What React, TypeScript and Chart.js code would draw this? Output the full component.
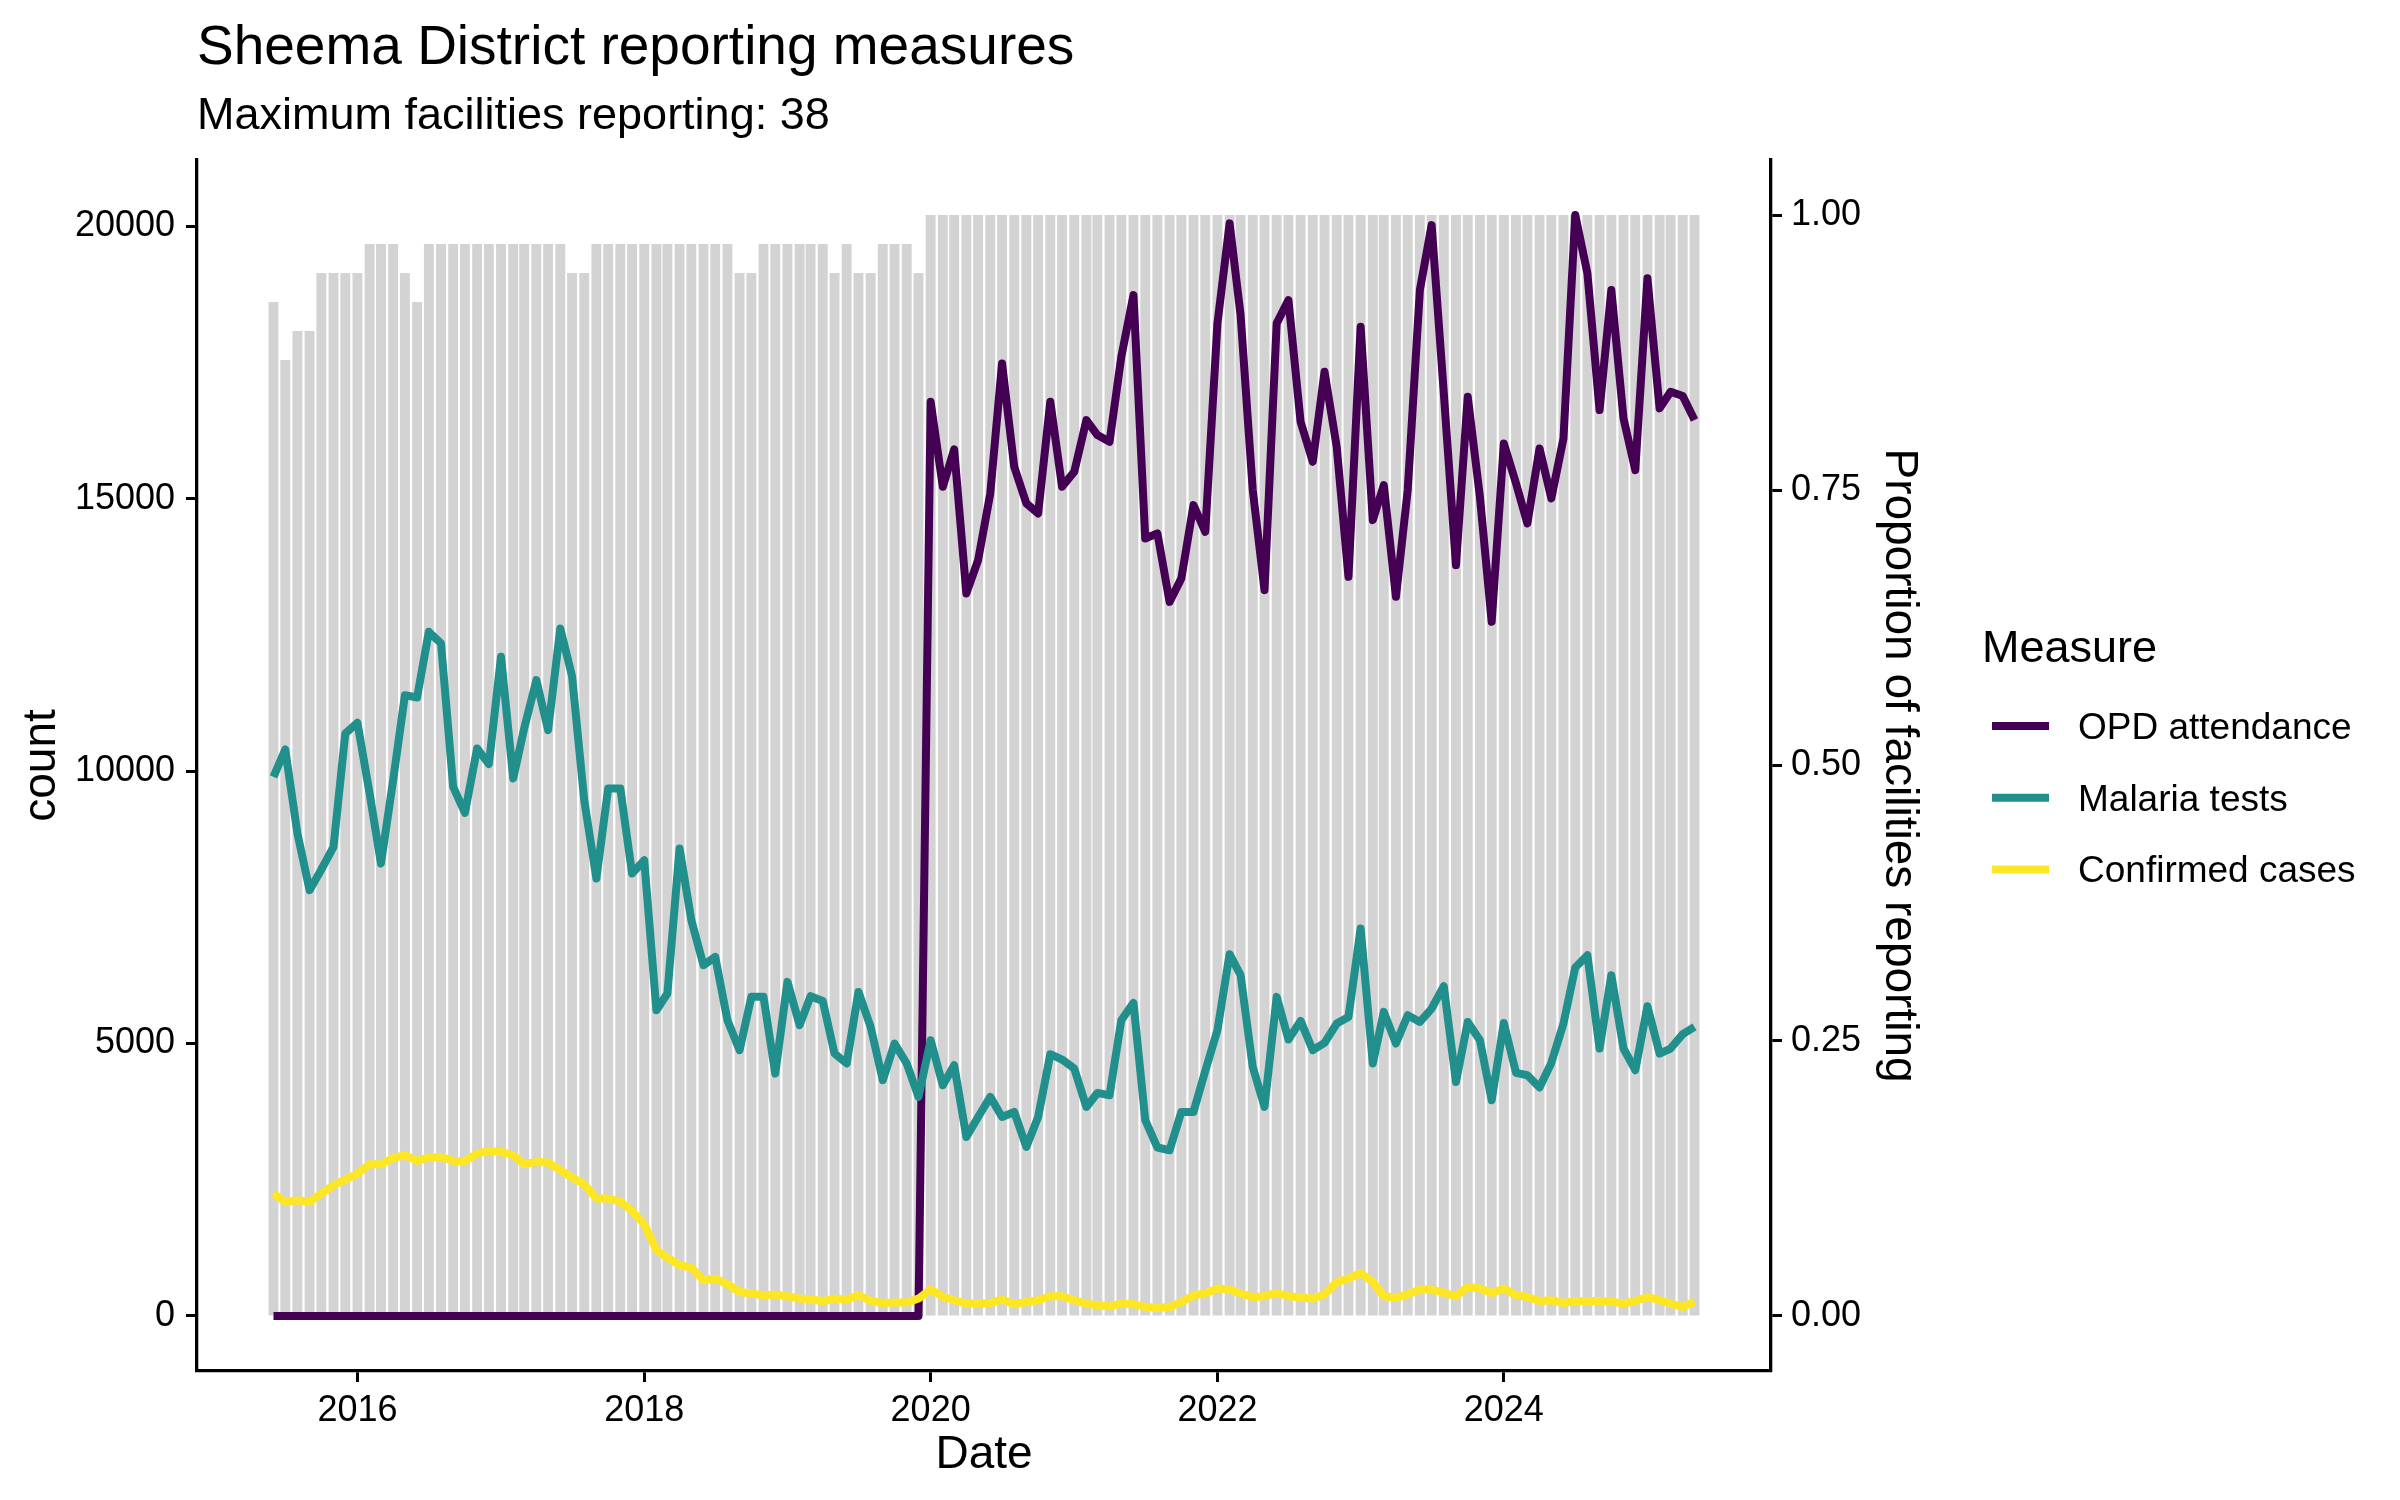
import React, { useEffect, useRef } from "react";
import { Chart, registerables } from "chart.js";

Chart.register(...registerables);

const TITLE = "Sheema District reporting measures";
const SUBTITLE = "Maximum facilities reporting: 38";
const MAX_FACILITIES = 38;

const months = [
  "2015-06", "2015-07", "2015-08", "2015-09", "2015-10", "2015-11", "2015-12",
  "2016-01", "2016-02", "2016-03", "2016-04", "2016-05", "2016-06", "2016-07", "2016-08", "2016-09", "2016-10", "2016-11", "2016-12",
  "2017-01", "2017-02", "2017-03", "2017-04", "2017-05", "2017-06", "2017-07", "2017-08", "2017-09", "2017-10", "2017-11", "2017-12",
  "2018-01", "2018-02", "2018-03", "2018-04", "2018-05", "2018-06", "2018-07", "2018-08", "2018-09", "2018-10", "2018-11", "2018-12",
  "2019-01", "2019-02", "2019-03", "2019-04", "2019-05", "2019-06", "2019-07", "2019-08", "2019-09", "2019-10", "2019-11", "2019-12",
  "2020-01", "2020-02", "2020-03", "2020-04", "2020-05", "2020-06", "2020-07", "2020-08", "2020-09", "2020-10", "2020-11", "2020-12",
  "2021-01", "2021-02", "2021-03", "2021-04", "2021-05", "2021-06", "2021-07", "2021-08", "2021-09", "2021-10", "2021-11", "2021-12",
  "2022-01", "2022-02", "2022-03", "2022-04", "2022-05", "2022-06", "2022-07", "2022-08", "2022-09", "2022-10", "2022-11", "2022-12",
  "2023-01", "2023-02", "2023-03", "2023-04", "2023-05", "2023-06", "2023-07", "2023-08", "2023-09", "2023-10", "2023-11", "2023-12",
  "2024-01", "2024-02", "2024-03", "2024-04", "2024-05", "2024-06", "2024-07", "2024-08", "2024-09", "2024-10", "2024-11", "2024-12",
  "2025-01", "2025-02", "2025-03", "2025-04", "2025-05",
];

const facilitiesReporting = [
  35, 33, 34, 34, 36, 36, 36,
  36, 37, 37, 37, 36, 35, 37, 37, 37, 37, 37, 37,
  37, 37, 37, 37, 37, 37, 36, 36, 37, 37, 37, 37,
  37, 37, 37, 37, 37, 37, 37, 37, 36, 36, 37, 37,
  37, 37, 37, 37, 36, 37, 36, 36, 37, 37, 37, 36,
  38, 38, 38, 38, 38, 38, 38, 38, 38, 38, 38, 38,
  38, 38, 38, 38, 38, 38, 38, 38, 38, 38, 38, 38,
  38, 38, 38, 38, 38, 38, 38, 38, 38, 38, 38, 38,
  38, 38, 38, 38, 38, 38, 38, 38, 38, 38, 38, 38,
  38, 38, 38, 38, 38, 38, 38, 38, 38, 38, 38, 38,
  38, 38, 38, 38, 38,
];

const opdAttendance = [
  0, 0, 0, 0, 0, 0, 0,
  0, 0, 0, 0, 0, 0, 0, 0, 0, 0, 0, 0,
  0, 0, 0, 0, 0, 0, 0, 0, 0, 0, 0, 0,
  0, 0, 0, 0, 0, 0, 0, 0, 0, 0, 0, 0,
  0, 0, 0, 0, 0, 0, 0, 0, 0, 0, 0, 0,
  16780, 15220, 15906, 13263, 13874, 15098, 17485, 15587, 14915, 14731, 16780, 15220,
  15495, 16444, 16169, 16046, 17606, 18739, 14272, 14364, 13108, 13538, 14884, 14393,
  18219, 20055, 18372, 15159, 13323, 18219, 18647, 16413, 15679, 17331, 15954, 13567,
  18157, 14608, 15251, 13200, 15159, 18831, 20024, 16934, 13782, 16872, 15036, 12741,
  16016, 15282, 14548, 15924, 15007, 16108, 20208, 19137, 16628, 18831, 16475, 15526,
  19046, 16659, 16964, 16885, 16444,
];

const malariaTests = [
  9895, 10398, 8856, 7815, 8195, 8610, 10692,
  10887, 9590, 8305, 9835, 11395, 11353, 12558, 12344, 9712, 9235, 10417, 10129,
  12099, 9866, 10784, 11671, 10753, 12620, 11744, 9468, 8030, 9682, 9682, 8122,
  8366, 5612, 5919, 8581, 7265, 6438, 6591, 5429, 4878, 5857, 5857, 4450,
  6132, 5337, 5869, 5783, 4817, 4634, 5948, 5306, 4327, 5001, 4634, 4021,
  5061, 4235, 4603, 3286, 3653, 4021, 3653, 3745, 3103, 3653, 4805, 4707,
  4542, 3837, 4094, 4052, 5429, 5746, 3593, 3092, 3042, 3745, 3745, 4498,
  5245, 6640, 6255, 4571, 3837, 5857, 5074, 5416, 4878, 5012, 5368, 5489,
  7112, 4634, 5581, 5001, 5520, 5397, 5643, 6053, 4296, 5397, 5061, 3960,
  5379, 4461, 4419, 4193, 4645, 5368, 6396, 6622, 4909, 6255, 4909, 4511,
  5686, 4817, 4909, 5172, 5306,
];

const confirmedCases = [
  2247, 2093, 2124, 2093, 2250, 2399, 2504,
  2614, 2785, 2785, 2901, 2950, 2846, 2908, 2919, 2846, 2846, 2981, 3029,
  3011, 2950, 2785, 2827, 2816, 2675, 2541, 2418, 2155, 2155, 2100, 1930,
  1680, 1210, 1070, 931, 889, 655, 687, 582, 441, 411, 380, 393,
  362, 319, 301, 275, 319, 301, 380, 275, 239, 245, 245, 319,
  488, 350, 288, 227, 227, 239, 301, 215, 257, 288, 362, 362,
  288, 227, 196, 178, 227, 215, 165, 154, 165, 257, 380, 411,
  503, 485, 411, 349, 362, 422, 362, 338, 319, 395, 620, 687,
  789, 624, 362, 338, 398, 485, 485, 422, 362, 532, 503, 422,
  503, 380, 349, 275, 288, 239, 270, 275, 275, 264, 227, 275,
  349, 288, 227, 165, 264,
];

const countTicks = [0, 5000, 10000, 15000, 20000];
const proportionTicks = [0, 0.25, 0.5, 0.75, 1];
const yearTicks = [2016, 2018, 2020, 2022, 2024];

const seriesNames = ["OPD attendance", "Malaria tests", "Confirmed cases"];
const seriesColors = ["#440154", "#21908C", "#FDE725"];
const BAR_COLOR = "#D3D3D3";

const FONT = "'Liberation Sans', Arial, Helvetica, sans-serif";
const DAY = 86400000;

function monthToDay(ym: string): number {
  const [y, m] = ym.split("-").map(Number);
  return Date.UTC(y, m - 1, 1) / DAY;
}

export default function App() {
  const canvasRef = useRef<HTMLCanvasElement | null>(null);

  useEffect(() => {
    const canvas = canvasRef.current;
    if (!canvas) return;

    const xs = months.map(monthToDay);
    const countMax = Math.max(...opdAttendance, ...malariaTests, ...confirmedCases);
    const halfBar = (28 * 0.9) / 2;
    const lo = xs[0] - halfBar;
    const hi = xs[xs.length - 1] + halfBar;
    const span = hi - lo;

    const seriesValues = [opdAttendance, malariaTests, confirmedCases];

    const titlePlugin = {
      id: "ggTitles",
      afterDraw(chart: any) {
        const { ctx, chartArea } = chart;
        ctx.save();
        ctx.fillStyle = "#000";
        ctx.textAlign = "left";
        ctx.textBaseline = "alphabetic";
        ctx.font = `55px ${FONT}`;
        ctx.fillText(TITLE, chartArea.left, 64);
        ctx.font = `45px ${FONT}`;
        ctx.fillText(SUBTITLE, chartArea.left, 129);
        ctx.restore();
      },
    };

    const legendPlugin = {
      id: "ggLegend",
      afterDraw(chart: any) {
        const { ctx } = chart;
        ctx.save();
        ctx.fillStyle = "#000";
        ctx.textAlign = "left";
        ctx.textBaseline = "alphabetic";
        ctx.font = `45px ${FONT}`;
        ctx.fillText("Measure", 1982, 662);
        seriesNames.forEach((name, i) => {
          const cy = 726 + i * 71.7;
          ctx.strokeStyle = seriesColors[i];
          ctx.lineWidth = 8;
          ctx.lineCap = "butt";
          ctx.beginPath();
          ctx.moveTo(1992, cy);
          ctx.lineTo(2049, cy);
          ctx.stroke();
          ctx.fillStyle = "#000";
          ctx.font = `37px ${FONT}`;
          ctx.fillText(name, 2078, cy + 13);
        });
        ctx.restore();
      },
    };

    const lineDataset = (idx: number, order: number) => ({
      type: "line" as const,
      label: seriesNames[idx],
      data: xs.map((x, i) => ({ x, y: seriesValues[idx][i] })),
      borderColor: seriesColors[idx],
      backgroundColor: seriesColors[idx],
      borderWidth: 8,
      pointRadius: 0,
      pointHoverRadius: 0,
      tension: 0,
      fill: false,
      borderJoinStyle: "round" as const,
      borderCapStyle: "butt" as const,
      yAxisID: "y",
      order,
    });

    const tickFont = { family: FONT, size: 36 };
    const axisTitleFont = { family: FONT, size: 46 };
    const tickGrid = {
      offset: false,
      drawOnChartArea: false,
      drawTicks: true,
      tickLength: 11,
      tickColor: "#000",
      tickWidth: 3,
    };
    const axisBorder = { display: true, color: "#000", width: 3.3 };

    const chart = new Chart(canvas, {
      type: "bar",
      data: {
        datasets: [
          lineDataset(2, 0),
          lineDataset(1, 1),
          lineDataset(0, 2),
          {
            type: "bar" as const,
            label: "Proportion of facilities reporting",
            data: xs.map((x, i) => ({ x, y: facilitiesReporting[i] / MAX_FACILITIES })),
            backgroundColor: BAR_COLOR,
            borderWidth: 0,
            barPercentage: 0.9,
            categoryPercentage: 1,
            yAxisID: "y2",
            order: 3,
          } as any,
        ],
      },
      options: {
        responsive: false,
        animation: false,
        devicePixelRatio: 1,
        layout: { padding: { left: 0, top: 160, right: 469, bottom: 0 } },
        plugins: {
          legend: { display: false },
          tooltip: { enabled: false },
          title: { display: false },
        },
        scales: {
          x: {
            type: "linear",
            position: "bottom",
            offset: false,
            min: lo - 0.05 * span,
            max: hi + 0.05 * span,
            afterBuildTicks: (scale: any) => {
              scale.ticks = yearTicks.map((y) => ({ value: Date.UTC(y, 0, 1) / DAY }));
            },
            ticks: {
              autoSkip: false,
              maxRotation: 0,
              padding: 7,
              color: "#000",
              font: tickFont,
              callback: (v: any) => String(new Date(Number(v) * DAY).getUTCFullYear()),
            },
            grid: tickGrid,
            border: axisBorder,
            title: {
              display: true,
              text: "Date",
              color: "#000",
              font: axisTitleFont,
              padding: { top: 0, bottom: 17 },
            },
            afterFit: (scale: any) => {
              scale.height = 129;
            },
          },
          y: {
            type: "linear",
            position: "left",
            min: -0.05 * countMax,
            max: 1.05 * countMax,
            afterBuildTicks: (scale: any) => {
              scale.ticks = countTicks.map((v) => ({ value: v }));
            },
            ticks: {
              padding: 11,
              color: "#000",
              font: tickFont,
              callback: (v: any) => String(v),
            },
            grid: tickGrid,
            border: axisBorder,
            title: {
              display: true,
              text: "count",
              color: "#000",
              font: axisTitleFont,
              padding: { top: 15, bottom: 0 },
            },
            afterFit: (scale: any) => {
              scale.width = 197;
            },
          },
          y2: {
            type: "linear",
            position: "right",
            min: -0.05,
            max: 1.05,
            afterBuildTicks: (scale: any) => {
              scale.ticks = proportionTicks.map((v) => ({ value: v }));
            },
            ticks: {
              padding: 9,
              color: "#000",
              font: tickFont,
              callback: (v: any) => Number(v).toFixed(2),
            },
            grid: tickGrid,
            border: axisBorder,
            title: {
              display: true,
              text: "Proportion of facilities reporting",
              color: "#000",
              font: axisTitleFont,
              padding: { top: 5, bottom: 0 },
            },
            afterFit: (scale: any) => {
              scale.width = 160;
            },
          },
        },
      } as any,
      plugins: [titlePlugin, legendPlugin],
    });

    return () => {
      chart.destroy();
    };
  }, []);

  return (
    <div
      style={{
        position: "absolute",
        left: 0,
        top: 0,
        width: 2400,
        height: 1500,
        background: "#ffffff",
      }}
    >
      <canvas
        ref={canvasRef}
        width={2400}
        height={1500}
        style={{ width: 2400, height: 1500, display: "block" }}
      />
    </div>
  );
}
